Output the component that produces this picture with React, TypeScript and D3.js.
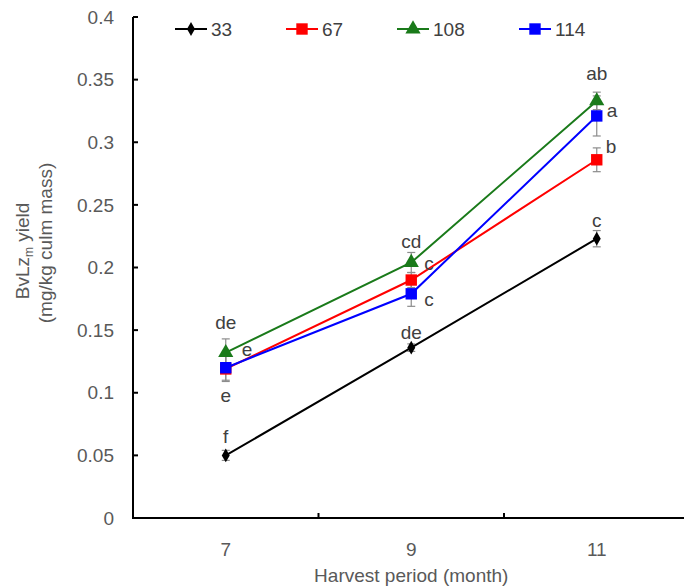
import React from 'react';
import * as d3 from 'd3';

const months = [7, 9, 11];
const seriesNames = ['33', '67', '108', '114'];
const seriesColors = ['#000000', '#ff0000', '#1a7a1a', '#0000ff'];
const yield33 = [0.05, 0.136, 0.223];
const yield67 = [0.119, 0.19, 0.286];
const yield108 = [0.132, 0.204, 0.333];
const yield114 = [0.12, 0.179, 0.321];
const err33 = [0.004, 0.003, 0.0065];
const err67 = [0.01, 0.006, 0.0095];
const err108 = [0.011, 0.008, 0.007];
const err114 = [0.01, 0.01, 0.016];
const letters33 = ['f', 'de', 'c'];
const letters67 = ['e', 'c', 'b'];
const letters108 = ['de', 'cd', 'ab'];
const letters114 = ['e', 'c', 'a'];
const yTicks = [0, 0.05, 0.1, 0.15, 0.2, 0.25, 0.3, 0.35, 0.4];

const W = 684, H = 587;
const font = 'Liberation Sans, Arial, sans-serif';

export default function App() {
  const x = d3.scaleLinear().domain([6, 12]).range([133, 689.5]);
  const y = d3.scaleLinear().domain([0, 0.4]).range([518, 17]);

  // letter offsets from the point: [dx, dy, anchor]
  const series = [
    { name: seriesNames[0], color: seriesColors[0], vals: yield33, err: err33, letters: letters33,
      off: [[0, -19, 'middle'], [0, -15, 'middle'], [0, -18, 'middle']], sym: d3.symbolDiamond, size: 55 },
    { name: seriesNames[1], color: seriesColors[1], vals: yield67, err: err67, letters: letters67,
      off: [[0, 26, 'middle'], [13, -17, 'start'], [9, -13, 'start']], sym: d3.symbolSquare, size: 130 },
    { name: seriesNames[2], color: seriesColors[2], vals: yield108, err: err108, letters: letters108,
      off: [[0, -30, 'middle'], [0, -21, 'middle'], [0, -28, 'middle']], sym: d3.symbolTriangle, size: 100 },
    { name: seriesNames[3], color: seriesColors[3], vals: yield114, err: err114, letters: letters114,
      off: [[16, -18, 'start'], [13, 6, 'start'], [10, -6, 'start']], sym: d3.symbolSquare, size: 130 },
  ];

  const line = d3.line<number>().x((_, i) => x(months[i])).y(d => y(d));
  const legendX = [175, 286, 397, 519];

  return (
    <svg width={W} height={H} style={{ position: 'absolute', left: 0, top: 0, background: '#fff' }} fontFamily={font}>
      {/* axes */}
      <line x1={133} x2={684} y1={518} y2={518} stroke="#000" strokeWidth={2} />
      <line x1={133} x2={133} y1={17} y2={519} stroke="#000" strokeWidth={2} />
      {yTicks.map(t => (
        <g key={t}>
          {t > 0 && <line x1={133} x2={138} y1={y(t)} y2={y(t)} stroke="#000" strokeWidth={2} />}
          <text x={114} y={y(t)} dy="0.35em" textAnchor="end" fontSize={19} fill="#595959">{t}</text>
        </g>
      ))}
      {[8, 10].map(t => (
        <line key={t} x1={x(t)} x2={x(t)} y1={518} y2={513} stroke="#000" strokeWidth={2} />
      ))}
      {months.map(m => (
        <text key={m} x={x(m)} y={549} dy="0.35em" textAnchor="middle" fontSize={19} fill="#595959">{m}</text>
      ))}
      <text x={x(9)} y={575} dy="0.35em" textAnchor="middle" fontSize={19} fill="#595959">Harvest period (month)</text>
      <g transform="translate(22,251) rotate(-90)">
        <text textAnchor="middle" dy="0.35em" fontSize={19} fill="#595959">
          BvLz<tspan fontSize={12} dy="4">m</tspan><tspan dy="-4"> yield</tspan>
        </text>
      </g>
      <text transform="translate(45,243) rotate(-90)" textAnchor="middle" dy="0.35em" fontSize={19} fill="#595959">(mg/kg culm mass)</text>

      {/* error bars */}
      {series.map(s => s.vals.map((v, i) => {
        const px = x(months[i]);
        return (
          <g key={s.name + i} stroke="#8c8c8c" strokeWidth={1.2}>
            <line x1={px} x2={px} y1={y(v + s.err[i])} y2={y(v - s.err[i])} />
            <line x1={px - 4} x2={px + 4} y1={y(v + s.err[i])} y2={y(v + s.err[i])} />
            <line x1={px - 4} x2={px + 4} y1={y(v - s.err[i])} y2={y(v - s.err[i])} />
          </g>
        );
      }))}

      {/* lines and markers */}
      {series.map(s => (
        <g key={s.name}>
          <path d={line(s.vals) || ''} fill="none" stroke={s.color} strokeWidth={2} />
          {s.vals.map((v, i) => (
            <path key={i} d={d3.symbol().type(s.sym).size(s.size)() || ''} transform={`translate(${x(months[i])},${y(v)})`} fill={s.color} />
          ))}
        </g>
      ))}

      {/* significance letters */}
      {series.map(s => s.letters.map((l, i) => {
        const [dx, dy, anchor] = s.off[i];
        return (
          <text key={s.name + l + i} x={x(months[i]) + dx} y={y(s.vals[i]) + dy} dy="0.35em"
            textAnchor={anchor} fontSize={19} fill="#404040">{l}</text>
        );
      }))}

      {/* legend */}
      {series.map((s, i) => (
        <g key={s.name} transform={`translate(${legendX[i]},29)`}>
          <line x1={0} x2={32} y1={0} y2={0} stroke={s.color} strokeWidth={2} />
          <path d={d3.symbol().type(s.sym).size(s.size)() || ''} transform="translate(16,0)" fill={s.color} />
          <text x={36} y={0} dy="0.35em" fontSize={19} fill="#404040">{s.name}</text>
        </g>
      ))}
    </svg>
  );
}
